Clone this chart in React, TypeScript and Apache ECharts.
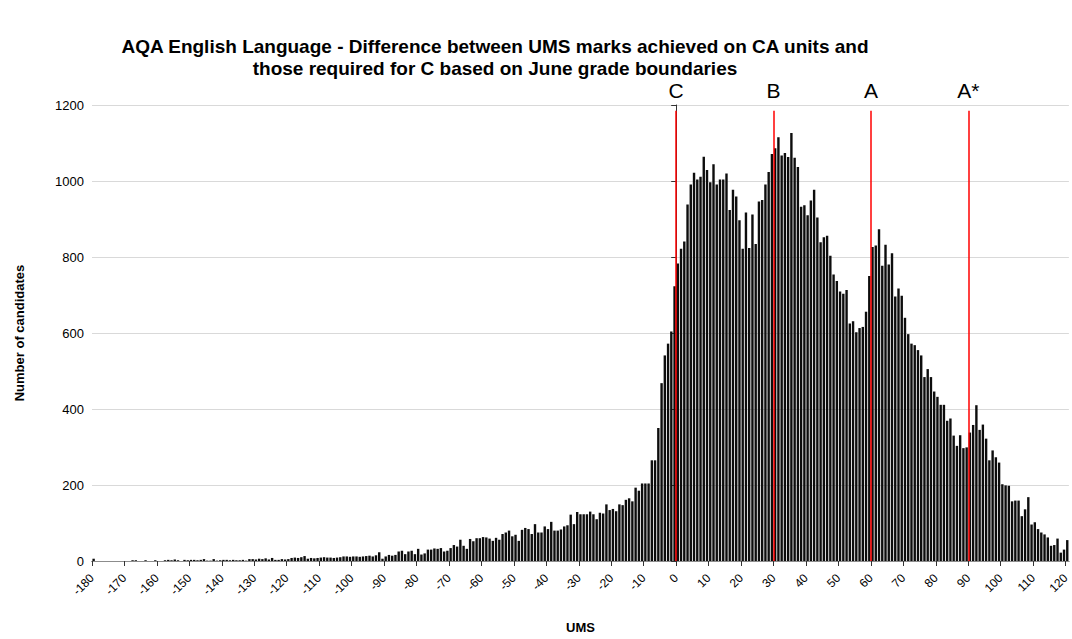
import React, { useEffect, useRef } from "react";
import * as echarts from "echarts";

const TITLE_LINES = [
  "AQA English Language - Difference between UMS marks achieved on CA units and",
  "those required for C based on June grade boundaries",
];
const X_AXIS_NAME = "UMS";
const Y_AXIS_NAME = "Number of candidates";

// UMS difference of the first bar; one bar per UMS mark
const UMS_START = -180;
// Number of candidates per UMS mark, from -180 to 120
const CANDIDATES = [
  6, 0, 0, 0, 0, 0, 0, 0, 0, 0,
  0, 0, 2, 2, 0, 0, 2, 0, 0, 2,
  0, 0, 2, 3, 2, 4, 2, 0, 3, 2,
  3, 3, 2, 3, 5, 1, 1, 5, 1, 2,
  3, 3, 2, 3, 2, 2, 3, 1, 5, 5,
  4, 6, 5, 7, 4, 8, 3, 3, 5, 4,
  5, 8, 9, 8, 10, 13, 6, 8, 7, 8,
  9, 10, 9, 9, 8, 9, 10, 12, 12, 11,
  12, 12, 11, 12, 13, 14, 12, 15, 23, 6,
  12, 16, 14, 16, 25, 27, 18, 25, 27, 18,
  32, 17, 20, 30, 30, 33, 32, 34, 25, 27,
  34, 42, 38, 56, 40, 32, 58, 52, 60, 60,
  63, 62, 59, 53, 61, 56, 71, 75, 80, 65,
  69, 53, 82, 87, 84, 71, 97, 75, 75, 91,
  84, 103, 80, 80, 83, 91, 94, 122, 97, 129,
  123, 123, 123, 130, 123, 110, 127, 125, 149, 134,
  137, 131, 149, 147, 161, 165, 157, 193, 185, 204,
  204, 204, 265, 265, 350, 468, 541, 572, 604, 723,
  783, 822, 841, 938, 991, 1022, 1004, 1011, 1064, 1029,
  997, 1044, 991, 1004, 1004, 1020, 924, 977, 959, 897,
  822, 917, 824, 912, 834, 946, 950, 991, 1024, 1071,
  1086, 1115, 1067, 1074, 1063, 1126, 1061, 1037, 932, 936,
  910, 949, 977, 904, 839, 852, 856, 803, 754, 737,
  709, 703, 713, 625, 631, 602, 613, 616, 656, 750,
  826, 830, 873, 777, 832, 780, 810, 696, 717, 698,
  640, 597, 572, 568, 555, 541, 484, 505, 484, 446,
  432, 411, 411, 369, 375, 330, 303, 331, 297, 299,
  338, 358, 410, 345, 359, 322, 265, 291, 273, 259,
  202, 199, 198, 157, 159, 159, 118, 136, 168, 96,
  102, 84, 75, 70, 62, 40, 42, 59, 22, 30,
  55,
];

const GRADE_LABELS = ["C", "B", "A", "A*"];
const GRADE_BOUNDARIES = [0, 30, 60, 90];
const GRADE_LINE_TOP = 1185;

const X_MIN = -180;
const X_MAX = 121;
const X_INTERVAL = 10;
const Y_MIN = 0;
const Y_MAX = 1200;
const Y_INTERVAL = 200;

const FONT = 'Arial, "Liberation Sans", Helvetica, sans-serif';

export default function App() {
  const ref = useRef<HTMLDivElement>(null);

  useEffect(() => {
    document.body.style.margin = "0";
    if (!ref.current) return;
    const chart = echarts.init(ref.current, undefined, { renderer: "svg" });

    const barData = CANDIDATES.map((c, i) => [UMS_START + i + 0.5, c]);

    const markData = GRADE_BOUNDARIES.map((b, i) => [
      { coord: [b, 0] },
      { coord: [b, GRADE_LINE_TOP], name: GRADE_LABELS[i] },
    ]);

    const titleStyle = {
      fontFamily: FONT,
      fontWeight: "bold",
      fontSize: 19,
      lineHeight: 16,
      color: "#000",
    };

    chart.setOption({
      animation: false,
      backgroundColor: "#ffffff",
      textStyle: { fontFamily: FONT },
      title: TITLE_LINES.map((t, i) => ({
        text: t,
        left: 495,
        top: 38 + i * 22,
        padding: 0,
        textAlign: "center",
        textStyle: titleStyle,
      })),
      grid: { left: 92, top: 105, width: 982.6, height: 460, containLabel: false },
      xAxis: [
        {
          type: "value",
          min: X_MIN,
          max: X_MAX,
          interval: X_INTERVAL,
          name: X_AXIS_NAME,
          nameLocation: "middle",
          nameGap: 60,
          nameTextStyle: { fontFamily: FONT, fontWeight: "bold", fontSize: 13, color: "#000" },
          axisLine: { show: true, onZero: false, lineStyle: { color: "#333", width: 1 } },
          axisTick: { show: true, length: 5, lineStyle: { color: "#333" } },
          axisLabel: {
            rotate: 45,
            margin: 15,
            fontSize: 12,
            color: "#000",
            fontFamily: FONT,
            showMaxLabel: false,
            formatter: (v: number) => (v % X_INTERVAL === 0 ? String(v) : ""),
          },
          splitLine: { show: false },
        },
        {
          type: "value",
          position: "top",
          min: X_MIN,
          max: X_MAX,
          interval: X_INTERVAL,
          axisLine: { show: true, lineStyle: { color: "#8c8c8c", width: 1 } },
          axisTick: { show: false },
          axisLabel: { show: false },
          splitLine: { show: false },
        },
      ],
      yAxis: {
        type: "value",
        min: Y_MIN,
        max: Y_MAX,
        interval: Y_INTERVAL,
        name: Y_AXIS_NAME,
        nameLocation: "middle",
        nameGap: 66,
        nameTextStyle: { fontFamily: FONT, fontWeight: "bold", fontSize: 13, color: "#000" },
        axisLine: { show: true, lineStyle: { color: "#333", width: 1 } },
        axisTick: { show: true, length: 5, lineStyle: { color: "#333" } },
        axisLabel: {
          fontSize: 13,
          color: "#000",
          fontFamily: FONT,
          margin: 8,
          formatter: (v: number) => String(v),
        },
        splitLine: { show: true, lineStyle: { color: "#d9d9d9", width: 1 } },
      },
      series: [
        {
          type: "bar",
          data: barData,
          barWidth: 2.4,
          itemStyle: { color: "#0d0d0d" },
          silent: true,
          markLine: {
            silent: true,
            symbol: "none",
            animation: false,
            lineStyle: { color: "#ff0000", width: 1.5, type: "solid" },
            label: {
              show: true,
              position: "end",
              distance: 12,
              formatter: "{b}",
              fontSize: 21,
              lineHeight: 16,
              color: "#000",
              fontFamily: FONT,
            },
            data: markData,
          },
        },
      ],
    });

    return () => chart.dispose();
  }, []);

  return <div ref={ref} style={{ width: 1072, height: 639 }} />;
}
